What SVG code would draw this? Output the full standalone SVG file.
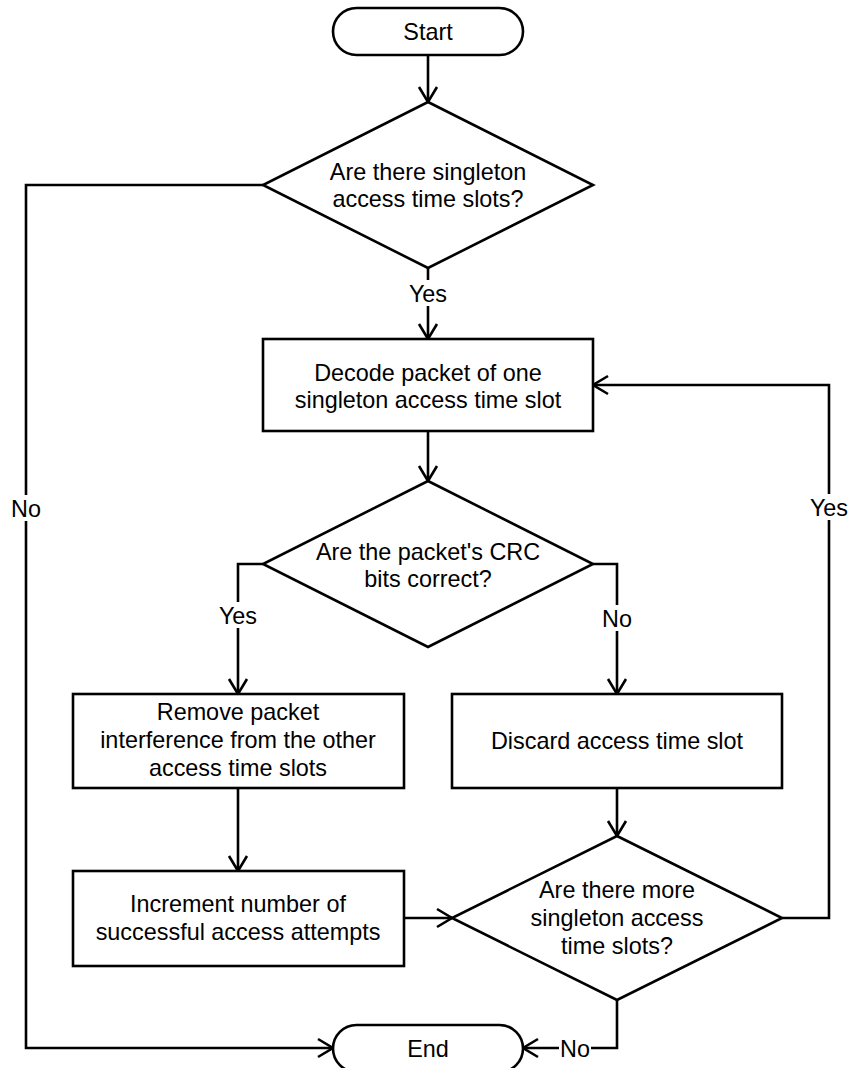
<svg xmlns="http://www.w3.org/2000/svg" width="848" height="1068" viewBox="0 0 848 1068">
  <style>
    .shape { fill: #ffffff; stroke: #000000; stroke-width: 2.6; }
    .edge { fill: none; stroke: #000000; stroke-width: 2.6; }
    text { font-family: "Liberation Sans", Arial, Helvetica, sans-serif; font-size: 23.4px; fill: #000000; text-anchor: middle; }
    .lbl-bg { fill: #ffffff; stroke: none; }
  </style>
  <defs>
    <marker id="open-arrow" markerUnits="userSpaceOnUse" markerWidth="30" markerHeight="30" viewBox="-20 -15 30 30" refX="0" refY="0" orient="auto">
      <path d="M-15,-9 L0,0 L-15,9" fill="none" stroke="#000000" stroke-width="2.6"/>
    </marker>
  </defs>

  <rect width="848" height="1068" fill="#ffffff"/>

  <!-- connectors -->
  <g id="connectors">
    <path class="edge" d="M428,55 L428,102" marker-end="url(#open-arrow)"/>
    <path class="edge" d="M428,268 L428,339" marker-end="url(#open-arrow)"/>
    <path class="edge" d="M263,185 L26,185 L26,1048 L333,1048" marker-end="url(#open-arrow)"/>
    <path class="edge" d="M428,431 L428,481" marker-end="url(#open-arrow)"/>
    <path class="edge" d="M263,564 L238,564 L238,694" marker-end="url(#open-arrow)"/>
    <path class="edge" d="M593,564 L617,564 L617,694" marker-end="url(#open-arrow)"/>
    <path class="edge" d="M238,788 L238,871" marker-end="url(#open-arrow)"/>
    <path class="edge" d="M617,788 L617,836" marker-end="url(#open-arrow)"/>
    <path class="edge" d="M404,918 L452,918" marker-end="url(#open-arrow)"/>
    <path class="edge" d="M782,918 L829,918 L829,385 L593,385" marker-end="url(#open-arrow)"/>
    <path class="edge" d="M617,1000 L617,1048 L523,1048" marker-end="url(#open-arrow)"/>

    <!-- edge labels -->
    <rect class="lbl-bg" x="408" y="280" width="40" height="26"/>
    <text x="428" y="302">Yes</text>
    <rect class="lbl-bg" x="10" y="495" width="32" height="26"/>
    <text x="26" y="517">No</text>
    <rect class="lbl-bg" x="218" y="602" width="40" height="26"/>
    <text x="238" y="624">Yes</text>
    <rect class="lbl-bg" x="601" y="605" width="32" height="26"/>
    <text x="617" y="627">No</text>
    <rect class="lbl-bg" x="809" y="494" width="40" height="26"/>
    <text x="829" y="516">Yes</text>
    <rect class="lbl-bg" x="559" y="1036" width="32" height="26"/>
    <text x="575" y="1057">No</text>
  </g>

  <g id="start">
    <rect class="shape" x="333" y="8" width="190" height="47" rx="23.5" ry="23.5"/>
    <text x="428" y="40">Start</text>
  </g>

  <g id="check-singletons">
    <polygon class="shape" points="428,102 593,185 428,268 263,185"/>
    <text x="428" y="180">Are there singleton</text>
    <text x="428" y="207">access time slots?</text>
  </g>

  <g id="decode-packet">
    <rect class="shape" x="263" y="339" width="330" height="92"/>
    <text x="428" y="381">Decode packet of one</text>
    <text x="428" y="408">singleton access time slot</text>
  </g>

  <g id="check-crc">
    <polygon class="shape" points="428,481 593,564 428,647 263,564"/>
    <text x="428" y="560">Are the packet's CRC</text>
    <text x="428" y="587">bits correct?</text>
  </g>

  <g id="remove-interference">
    <rect class="shape" x="73" y="694" width="331" height="94"/>
    <text x="238" y="720">Remove packet</text>
    <text x="238" y="748">interference from the other</text>
    <text x="238" y="776">access time slots</text>
  </g>

  <g id="discard-slot">
    <rect class="shape" x="452" y="694" width="330" height="94"/>
    <text x="617" y="749">Discard access time slot</text>
  </g>

  <g id="increment-attempts">
    <rect class="shape" x="73" y="871" width="331" height="95"/>
    <text x="238" y="912">Increment number of</text>
    <text x="238" y="940">successful access attempts</text>
  </g>

  <g id="check-more">
    <polygon class="shape" points="617,836 782,918 617,1000 452,918"/>
    <text x="617" y="898">Are there more</text>
    <text x="617" y="926">singleton access</text>
    <text x="617" y="954">time slots?</text>
  </g>

  <g id="end">
    <rect class="shape" x="333" y="1025" width="190" height="47" rx="23.5" ry="23.5"/>
    <text x="428" y="1057">End</text>
  </g>
</svg>
